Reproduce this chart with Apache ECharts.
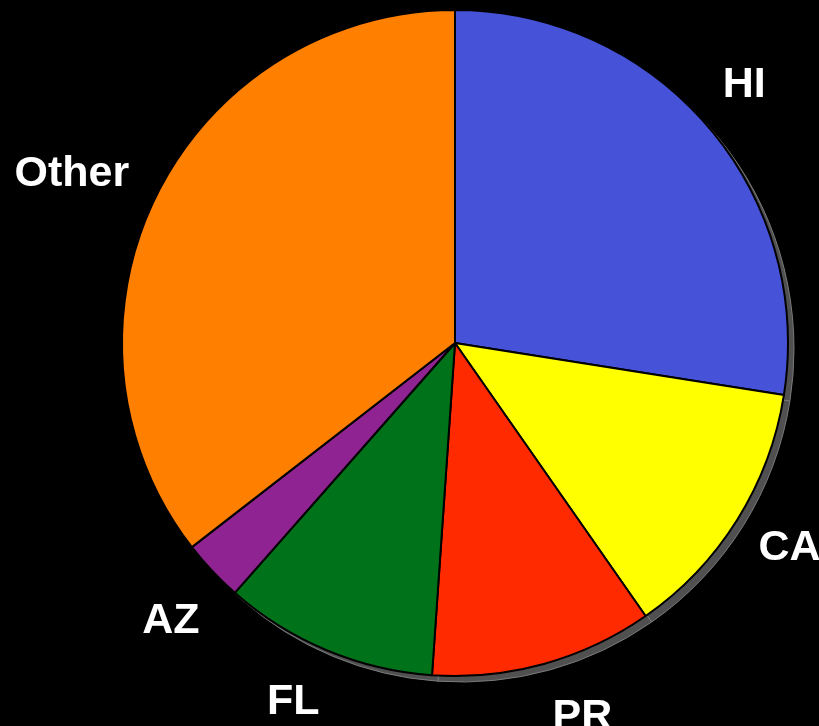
<!DOCTYPE html>
<html>
<head>
<meta charset="utf-8">
<script src="https://cdn.jsdelivr.net/npm/echarts@6/dist/echarts.min.js"></script>
<style>
  html, body { margin: 0; padding: 0; background: #000; }
  #chart { width: 819px; height: 726px; }
</style>
</head>
<body>
<div id="chart"></div>
<script>
// 数据
const states = ['HI', 'CA', 'PR', 'FL', 'AZ', 'Other']
const shares = [27.5, 12.8, 10.8, 10.4, 3.0, 35.5]
const colors = ['#4652d8', '#ffff00', '#ff2a00', '#00731a', '#8f2391', '#ff7f00']

// 标签微调（像素偏移）
const labelOffsets = [[-8, -4], [3, -2], [23, -3], [-11, -2], [1, 10], [-32, 3]]

const mChart = echarts.init(document.getElementById('chart'))

const pieData = states.map((name, i) => ({ name, value: shares[i] }))

const options = {
  backgroundColor: '#000',
  animation: false,
  series: [
    // 阴影（灰色底饼）
    {
      type: 'pie',
      silent: true,
      center: [461, 349],
      radius: 333,
      startAngle: 90,
      label: { show: false },
      labelLine: { show: false },
      itemStyle: { color: '#505050', borderColor: '#7a7a7a', borderWidth: 1 },
      data: pieData
    },
    // 主饼图
    {
      type: 'pie',
      center: [455, 343],
      radius: 333,
      startAngle: 90,
      color: colors,
      label: { show: false },
      labelLine: { show: false },
      itemStyle: { borderColor: '#000', borderWidth: 2 },
      data: pieData
    },
    // 标签环（透明）
    {
      type: 'pie',
      silent: true,
      center: [455, 343],
      radius: [368, 408],
      startAngle: 90,
      itemStyle: { color: 'transparent' },
      labelLine: { show: false },
      label: {
        show: true,
        position: 'inside',
        formatter: '{b}',
        color: '#fff',
        fontFamily: 'Liberation Sans, Arial, sans-serif',
        fontWeight: 'bold',
        fontSize: 43
      },
      data: pieData.map((d, i) => ({ ...d, label: { offset: labelOffsets[i] } }))
    }
  ]
}

mChart.setOption(options)
</script>
</body>
</html>
